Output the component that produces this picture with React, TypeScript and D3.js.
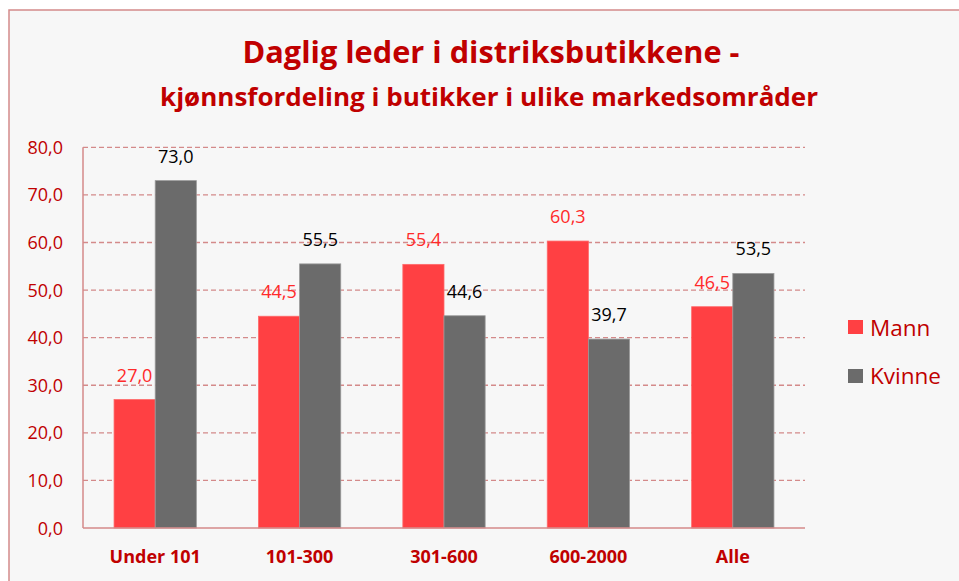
import React from "react";
import * as d3 from "d3";

const categories = ["Under 101", "101-300", "301-600", "600-2000", "Alle"];
const seriesNames = ["Mann", "Kvinne"];
const mannValues = [27.0, 44.5, 55.4, 60.3, 46.5];
const kvinneValues = [73.0, 55.5, 44.6, 39.7, 53.5];
const yTicks = [0, 10, 20, 30, 40, 50, 60, 70, 80];
const titleLine1 = "Daglig leder i distriksbutikkene -";
const titleLine2 = "kjønnsfordeling i butikker i ulike markedsområder";

const W = 959;
const H = 581;
const left = 83;
const right = 805;
const top = 147.3;
const bottom = 528;
const colors = ["#ff4043", "#6b6b6b"];
const strokes = ["#ff6a6a", "#9a9a9a"];
const labelColors = ["#ff2a2a", "#000000"];
const darkRed = "#c00000";
const gridColor = "#d48a8a";
const font = "'Open Sans', 'Noto Sans', sans-serif";

export default function App() {
  const x = d3.scaleBand<string>().domain(categories).range([left, right]).paddingInner(0.43).paddingOuter(0.215);
  const x1 = d3.scaleBand<string>().domain(seriesNames).range([0, x.bandwidth()]);
  const y = d3.scaleLinear().domain([0, 80]).range([bottom, top]);
  const series = [mannValues, kvinneValues];
  const fmt = (v: number) => v.toFixed(1).replace(".", ",");

  return (
    <svg width={W} height={H} style={{ position: "absolute", left: 0, top: 0 }}>
      <rect x={0} y={0} width={W} height={H} fill="#ffffff" />
      <rect x={9} y={10} width={W + 20} height={H + 20} fill="#f7f7f7" stroke={gridColor} strokeWidth={1.5} />
      <text x={491} y={63} textAnchor="middle" fontFamily={font} fontWeight="bold" fontSize={29.5} fill={darkRed} textLength={497} lengthAdjust="spacingAndGlyphs">
        {titleLine1}
      </text>
      <text x={489} y={106} textAnchor="middle" fontFamily={font} fontWeight="bold" fontSize={25} fill={darkRed} textLength={658} lengthAdjust="spacingAndGlyphs">
        {titleLine2}
      </text>
      {yTicks.map((t) => (
        <g key={t}>
          {t > 0 && (
            <line x1={left} x2={right} y1={y(t)} y2={y(t)} stroke={gridColor} strokeWidth={1.3} strokeDasharray="5,3" />
          )}
          <text x={63} y={y(t) + 6.5} textAnchor="end" fontFamily={font} fontSize={18} fill={darkRed}>
            {fmt(t)}
          </text>
        </g>
      ))}
      {categories.map((c, i) => (
        <g key={c}>
          {series.map((vals, s) => {
            const bx = (x(c) as number) + (x1(seriesNames[s]) as number);
            const bw = x1.bandwidth();
            return (
              <g key={s}>
                <rect x={bx} y={y(vals[i])} width={bw} height={bottom - y(vals[i])} fill={colors[s]} stroke={strokes[s]} strokeWidth={0.8} />
                <text x={bx + bw / 2} y={y(vals[i]) - 18} textAnchor="middle" fontFamily={font} fontSize={18} fill={labelColors[s]}>
                  {fmt(vals[i])}
                </text>
              </g>
            );
          })}
          <text x={(x(c) as number) + x.bandwidth() / 2} y={563} textAnchor="middle" fontFamily={font} fontWeight="bold" fontSize={18} fill={darkRed}>
            {c}
          </text>
        </g>
      ))}
      <line x1={left} x2={left} y1={top} y2={bottom} stroke={gridColor} strokeWidth={1.5} />
      <line x1={left} x2={right} y1={bottom} y2={bottom} stroke={gridColor} strokeWidth={1.5} />
      {seriesNames.map((n, s) => (
        <g key={n}>
          <rect x={848} y={320 + s * 49} width={15} height={14} fill={colors[s]} />
          <text x={870} y={336 + s * 48} fontFamily={font} fontSize={22.5} fill={darkRed}>
            {n}
          </text>
        </g>
      ))}
    </svg>
  );
}
